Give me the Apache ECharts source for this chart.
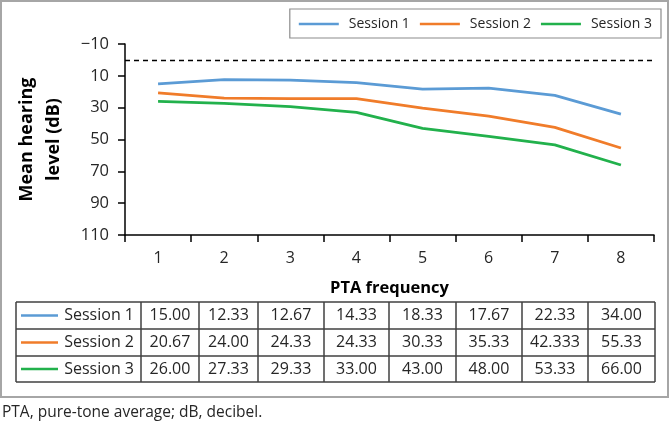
<!DOCTYPE html>
<html><head><meta charset="utf-8">
<script src="https://cdn.jsdelivr.net/npm/echarts@6/dist/echarts.min.js"></script>
<style>html,body{margin:0;padding:0;background:#fff}#c{width:670px;height:427px}</style>
</head><body><div id="c"></div>
<script>
const categories = ['1','2','3','4','5','6','7','8'];
const seriesNames = ['Session 1','Session 2','Session 3'];
const session1 = [15.00, 12.33, 12.67, 14.33, 18.33, 17.67, 22.33, 34.00];
const session2 = [20.67, 24.00, 24.33, 24.33, 30.33, 35.33, 42.333, 55.33];
const session3 = [26.00, 27.33, 29.33, 33.00, 43.00, 48.00, 53.33, 66.00];
const referenceLevel = 0;
const yTicks = {min: -10, max: 110, interval: 20};
const colors = ['#5B9BD5', '#F07C2A', '#22B14C'];
const caption = 'PTA, pure-tone average; dB, decibel.';

const allSeries = [session1, session2, session3];
const FONT = '"Open Sans", "Noto Sans", sans-serif';

function fmt(v) {
  const s = String(v);
  const d = s.indexOf('.') >= 0 ? s.length - s.indexOf('.') - 1 : 0;
  return v.toFixed(Math.max(2, d));
}

// table layout
const colX = [16, 141, 199, 258, 324, 389, 456, 522, 588, 655];
const rowY = [302, 329, 356, 382];
const graphics = [];
graphics.push({type:'rect', shape:{x:1, y:1, width:667, height:396}, style:{fill:'none', stroke:'#a6a6a6', lineWidth:2}, silent:true});
for (let r = 0; r < rowY.length; r++) {
  graphics.push({type:'line', shape:{x1:colX[0], y1:rowY[r], x2:colX[colX.length-1], y2:rowY[r]}, style:{stroke:'#404040', lineWidth:1.5}});
}
for (let c = 0; c < colX.length; c++) {
  graphics.push({type:'line', shape:{x1:colX[c], y1:rowY[0], x2:colX[c], y2:rowY[rowY.length-1]}, style:{stroke:'#404040', lineWidth:1.5}});
}
for (let r = 0; r < allSeries.length; r++) {
  const cy = (rowY[r] + rowY[r+1]) / 2;
  graphics.push({type:'line', shape:{x1:21, y1:cy, x2:58, y2:cy}, style:{stroke:colors[r], lineWidth:2.5}});
  graphics.push({type:'text', x:134, y:cy, style:{text:seriesNames[r], align:'right', verticalAlign:'middle', font:'16px ' + FONT, fill:'#262626'}});
  for (let c = 0; c < categories.length; c++) {
    const cx = (colX[c+1] + colX[c+2]) / 2;
    graphics.push({type:'text', x:cx, y:cy, style:{text:fmt(allSeries[r][c]), align:'center', verticalAlign:'middle', font:'16px ' + FONT, fill:'#262626'}});
  }
}
graphics.push({type:'text', x:2, y:413, style:{text:caption, align:'left', verticalAlign:'middle', font:'15.5px ' + FONT, fill:'#262626'}});

const chart = echarts.init(document.getElementById('c'), null, {renderer:'canvas'});
chart.setOption({
  animation:false,
  backgroundColor:'#fff',
  color: colors,
  textStyle:{fontFamily:FONT},
  legend:{
    top:9, right:9,
    data: seriesNames,
    icon:'rect', itemWidth:40, itemHeight:2.5, itemGap:10,
    padding:[8,9,7,9],
    borderColor:'#8c8c8c', borderWidth:1.2,
    textStyle:{fontSize:14, color:'#262626', fontFamily:FONT, padding:[0,0,0,5]}
  },
  grid:{left:125, top:44, right:16, bottom:192, containLabel:false},
  xAxis:{
    type:'category', data:categories, boundaryGap:true,
    name:'PTA frequency', nameLocation:'middle', nameGap:45,
    nameTextStyle:{fontSize:16.5, fontWeight:'bold', color:'#000', fontFamily:FONT},
    axisLine:{onZero:false, lineStyle:{color:'#000', width:1.5}},
    axisTick:{show:true, alignWithLabel:false, length:7, lineStyle:{color:'#000', width:1.5}},
    axisLabel:{fontSize:16, color:'#262626', margin:15, fontFamily:FONT},
    splitLine:{show:false}
  },
  yAxis:{
    type:'value', inverse:true, min:yTicks.min, max:yTicks.max, interval:yTicks.interval,
    name:'Mean hearing\nlevel (dB)', nameLocation:'middle', nameGap:58, nameRotate:90,
    nameTextStyle:{fontSize:18, fontWeight:'bold', color:'#000', lineHeight:27, fontFamily:FONT},
    axisLine:{show:true, onZero:false, lineStyle:{color:'#000', width:1.5}},
    axisTick:{show:true, length:7, lineStyle:{color:'#000', width:1.5}},
    axisLabel:{fontSize:16.5, color:'#262626', margin:16, fontFamily:FONT, formatter:v => String(v).replace('-', '\u2212')},
    splitLine:{show:false}
  },
  series: allSeries.map((d, i) => ({
    name: seriesNames[i], type:'line', data:d, symbol:'none', smooth:false,
    lineStyle:{width:2.8, color:colors[i]},
    itemStyle:{color:colors[i]},
    markLine: i === 0 ? {
      silent:true, symbol:['none','none'], label:{show:false},
      lineStyle:{type:[5,4], color:'#000', width:1.3},
      data:[{yAxis:referenceLevel}]
    } : undefined
  })),
  graphic: graphics
});
</script></body></html>
